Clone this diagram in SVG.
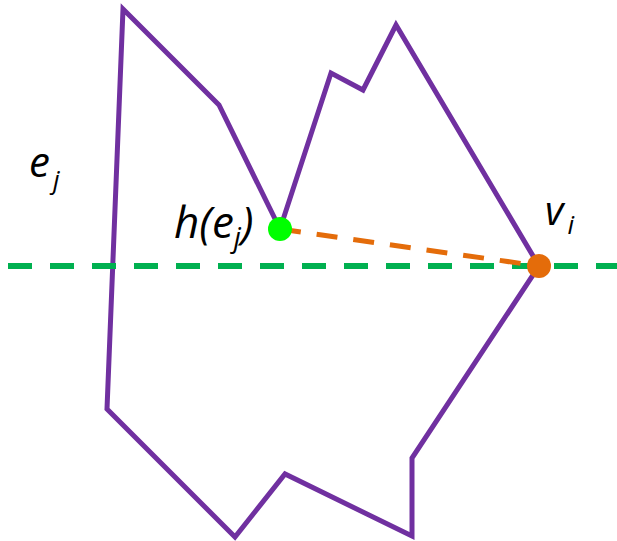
<svg xmlns="http://www.w3.org/2000/svg" width="617" height="541" viewBox="0 0 617 541">
<style>
.lbl{font-family:"Open Sans","Liberation Sans",sans-serif;font-style:italic;fill:#000}
</style>
<rect width="617" height="541" fill="#fff"/>
<g id="polygon">
<polygon points="123,9 219,105 280,229 331,73 363,90 396,25 539,266 412,458 412,536 285,474 235,537 107,409" fill="none" stroke="#7030A0" stroke-width="5" stroke-linejoin="miter"/>
</g>
<g id="connectors">
<line x1="8" y1="266" x2="617" y2="266" stroke="#00B050" stroke-width="6" stroke-dasharray="24 18"/>
<line x1="280" y1="229" x2="539" y2="266" stroke="#E46C0A" stroke-width="5" stroke-dasharray="21 16"/>
</g>
<g id="h">
<circle cx="280" cy="229" r="12" fill="#00FF00"/>
<text class="lbl" x="174" y="238" font-size="44">h(e<tspan font-size="28" dy="9">j</tspan><tspan dy="-9">)</tspan></text>
</g>
<g id="v">
<circle cx="539" cy="266" r="12" fill="#E46C0A"/>
<text class="lbl" x="545" y="225" font-size="40">v<tspan font-size="26" dx="4" dy="9">i</tspan></text>
</g>
<g id="e">
<text class="lbl" x="29" y="177" font-size="42">e<tspan font-size="26" dx="3" dy="12">j</tspan></text>
</g>
</svg>
